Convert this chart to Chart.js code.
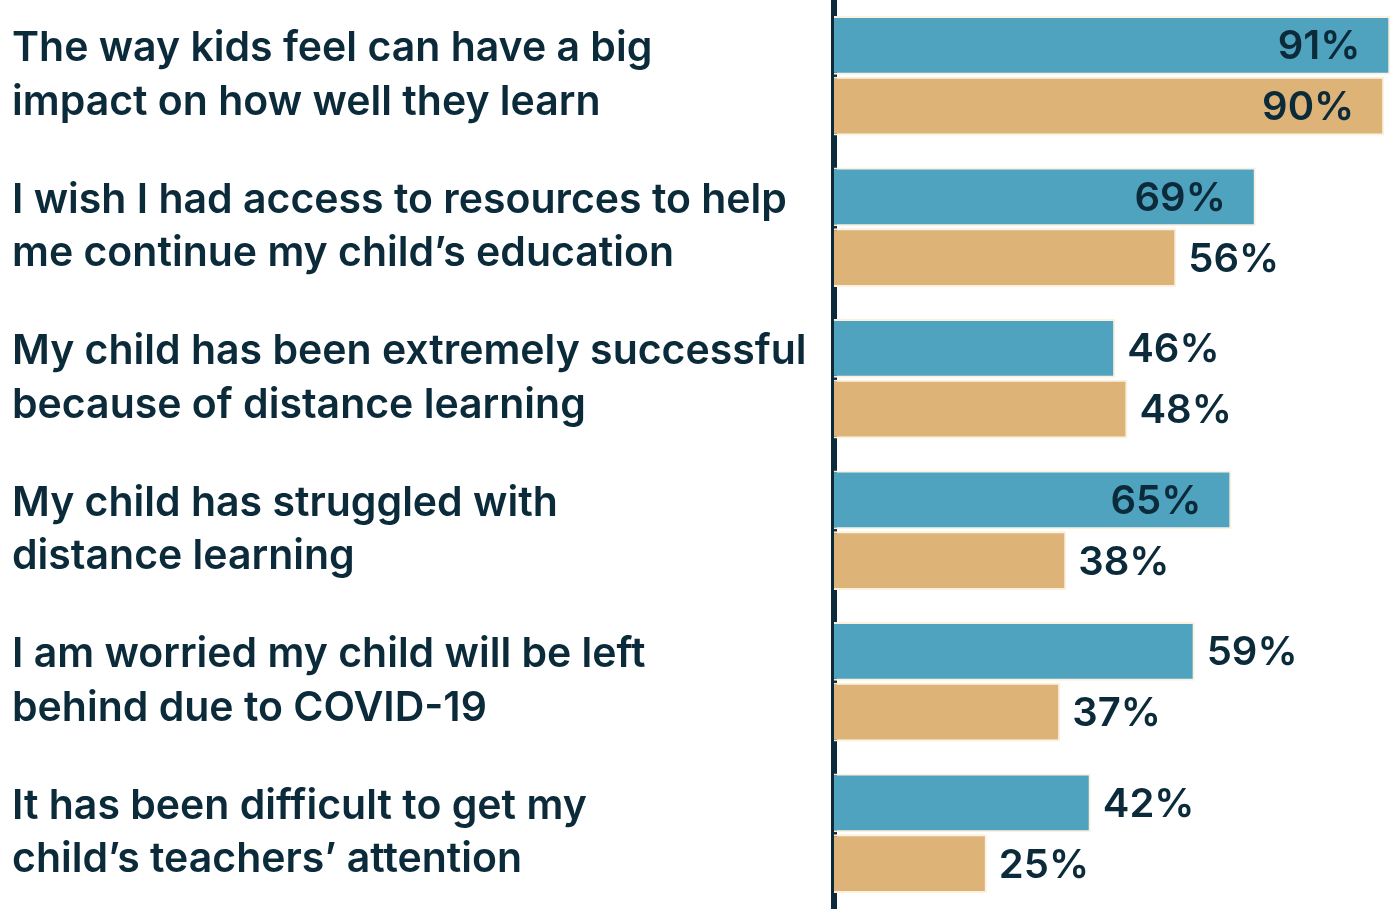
<!DOCTYPE html>
<html>
<head>
<meta charset="utf-8">
<script src="https://cdn.jsdelivr.net/npm/chart.js@4"></script>
<style>
  html, body { margin: 0; padding: 0; background: #ffffff; }
  #wrap { width: 1394px; height: 909px; }
</style>
</head>
<body>
<div id="wrap"><canvas id="bar-chart"></canvas></div>
<script>
// chart data
var categories = [
    ['The way kids feel can have a big', 'impact on how well they learn'],
    ['I wish I had access to resources to help', 'me continue my child\u2019s education'],
    ['My child has been extremely successful', 'because of distance learning'],
    ['My child has struggled with', 'distance learning'],
    ['I am worried my child will be left', 'behind due to COVID-19'],
    ['It has been difficult to get my', 'child\u2019s teachers\u2019 attention']
];
var seriesA = [91, 69, 46, 65, 59, 42];
var seriesB = [90, 56, 48, 38, 37, 25];

var textColor = '#0b2a3a';

// simple value labels, inside the bar when it is long enough
var valueLabels = {
    id: 'valueLabels',
    afterDatasetsDraw: function (chart) {
        var ctx = chart.ctx;
        ctx.save();
        ctx.font = '600 40px Inter';
        ctx.fillStyle = textColor;
        ctx.textBaseline = 'middle';
        chart.data.datasets.forEach(function (ds, i) {
            chart.getDatasetMeta(i).data.forEach(function (bar, j) {
                var v = ds.data[j];
                if (v >= 60) {
                    ctx.textAlign = 'right';
                    ctx.fillText(v + '%', bar.x - 30, bar.y + 2);
                } else {
                    ctx.textAlign = 'left';
                    ctx.fillText(v + '%', bar.x + 12, bar.y + 2);
                }
            });
        });
        ctx.restore();
    }
};

var ctx1 = document.getElementById('bar-chart').getContext('2d');
var barChart = new Chart(ctx1, {
    type: 'bar',
    data: {
        labels: categories,
        datasets: [{
            label: 'A',
            data: seriesA,
            backgroundColor: '#4fa3bf',
            borderColor: '#fcf1de',
            borderWidth: 2,
            borderSkipped: 'left'
        }, {
            label: 'B',
            data: seriesB,
            backgroundColor: '#deb378',
            borderColor: '#fcf1de',
            borderWidth: 2,
            borderSkipped: 'left'
        }]
    },
    options: {
        indexAxis: 'y',
        responsive: true,
        maintainAspectRatio: false,
        animation: false,
        layout: { padding: { left: 12, right: 0, top: 0, bottom: 0 } },
        datasets: {
            bar: { categoryPercentage: 0.8, barPercentage: 0.97 }
        },
        scales: {
            x: {
                display: false,
                min: 0,
                max: 91.6
            },
            y: {
                z: 1,
                grid: { display: false },
                border: { display: true, color: textColor, width: 6 },
                ticks: {
                    crossAlign: 'far',
                    color: textColor,
                    font: { family: 'Inter', size: 41, weight: '600', lineHeight: 1.3 }
                },
                afterFit: function (scale) {
                    scale.width = 822;
                    scale.paddingTop = 0;
                    scale.paddingBottom = 0;
                }
            }
        },
        plugins: {
            legend: { display: false },
            tooltip: { enabled: false }
        },
        events: []
    },
    plugins: [valueLabels]
});
</script>
</body>
</html>
